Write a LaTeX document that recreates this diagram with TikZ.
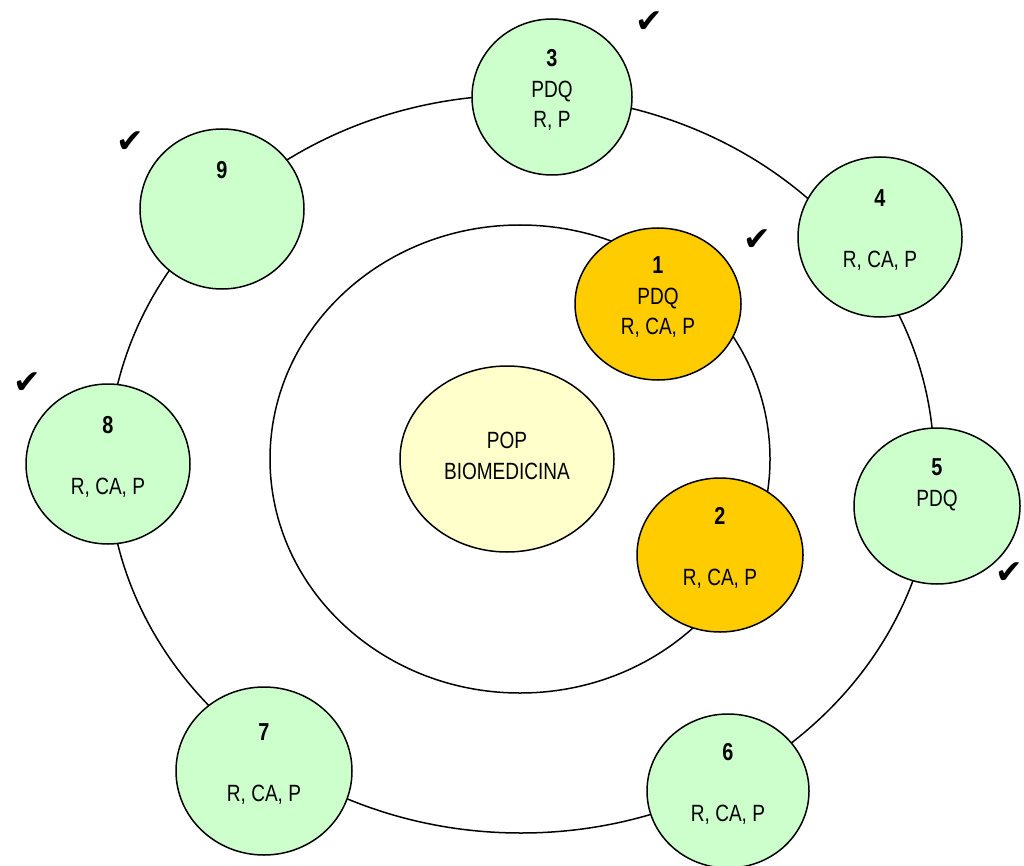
\documentclass[tikz,border=0pt]{standalone}
\usepackage{fontspec}
\setmainfont{Liberation Sans}[FakeStretch=0.81]
\newfontfamily\symfont{DejaVu Sans}
\usetikzlibrary{shapes.geometric}
\definecolor{lgreen}{HTML}{CCFFCC}
\definecolor{gold}{HTML}{FFCC00}
\definecolor{lyellow}{HTML}{FFFFCC}
\newcommand{\num}[1]{{\fontsize{24.5}{30.5}\selectfont\textbf{#1}}}
\tikzset{
  orbit/.style={draw=black, line width=1.5pt},
  bubble/.style={ellipse, draw=black, line width=1.5pt, inner sep=0pt, minimum width=164pt, minimum height=158pt},
  greenb/.style={bubble, fill=lgreen},
  goldb/.style={bubble, fill=gold},
  txt/.style={align=center, inner sep=0pt, font=\fontsize{23.5}{30.5}\selectfont, yshift=6pt},
  tick/.style={font=\symfont\fontsize{33}{33}\selectfont, inner sep=0pt}
}
\begin{document}
\begin{tikzpicture}[x=1pt, y=-1pt]
\useasboundingbox (0,0) rectangle (1024,866);
\clip (0,0) rectangle (1024,866);
% orbits
\draw[orbit] (521,464) ellipse [x radius=413, y radius=369];
\draw[orbit] (520,459) ellipse [x radius=250, y radius=234];
% centre
\node[bubble, fill=lyellow, minimum width=214pt, minimum height=186pt] (c) at (507,459) {};
\node[txt, yshift=-5pt] (ct) at (c.center) {\strut POP\\\strut BIOMEDICINA};
% inner bubbles
\node[goldb, minimum width=166pt, minimum height=152pt] (n1) at (658,304) {};
\node[goldb, minimum width=166pt, minimum height=154pt] (n2) at (720,555) {};
% outer bubbles
\node[greenb, minimum width=160pt, minimum height=156pt] (n3) at (552,97) {};
\node[greenb, minimum width=164pt, minimum height=160pt] (n4) at (880,237) {};
\node[greenb, minimum width=166pt, minimum height=156pt] (n5) at (937,506) {};
\node[greenb, minimum width=162pt, minimum height=154pt] (n6) at (728,791) {};
\node[greenb, minimum width=176pt, minimum height=168pt] (n7) at (264,771) {};
\node[greenb, minimum width=164pt, minimum height=160pt] (n8) at (108,464) {};
\node[greenb, minimum width=164pt, minimum height=160pt] (n9) at (222,209) {};
% texts
\node[txt] (t1) at (n1.center) {\strut\num{1}\\\strut PDQ\\\strut R, CA, P};
\node[txt] (t2) at (n2.center) {\strut\num{2}\\\strut\\\strut R, CA, P};
\node[txt] (t3) at (n3.center) {\strut\num{3}\\\strut PDQ\\\strut R, P};
\node[txt] (t4) at (n4.center) {\strut\num{4}\\\strut\\\strut R, CA, P};
\node[txt] (t5) at (n5.center) {\strut\num{5}\\\strut PDQ\\\strut};
\node[txt] (t6) at (n6.center) {\strut\num{6}\\\strut\\\strut R, CA, P};
\node[txt] (t7) at (n7.center) {\strut\num{7}\\\strut\\\strut R, CA, P};
\node[txt] (t8) at (n8.center) {\strut\num{8}\\\strut\\\strut R, CA, P};
\node[txt] (t9) at (n9.center) {\strut\num{9}\\\strut\\\strut};
% checkmarks
\node[tick] (k3) at (649,22) {✔};
\node[tick] (k9) at (130,142) {✔};
\node[tick] (k1) at (757,240) {✔};
\node[tick] (k8) at (27,383) {✔};
\node[tick] (k5) at (1009,573) {✔};
\end{tikzpicture}
\end{document}
